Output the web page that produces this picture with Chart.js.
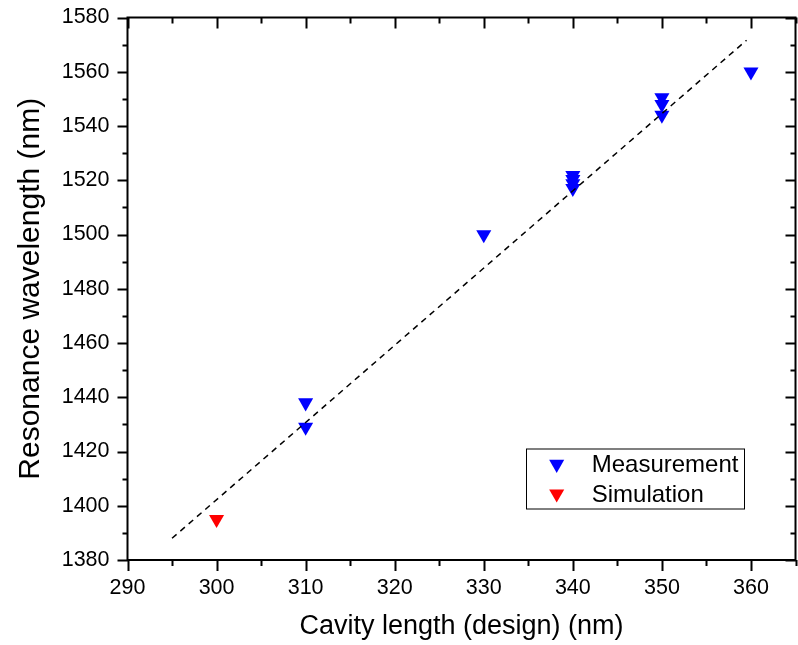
<!DOCTYPE html>
<html>
<head>
<meta charset="utf-8">
<script src="https://cdn.jsdelivr.net/npm/chart.js@4.4.1/dist/chart.umd.min.js"></script>
<style>
  html, body { margin: 0; padding: 0; background: #fff; overflow: hidden; }
  #wrap { width: 798px; height: 645px; }
  canvas { display: block; }
</style>
</head>
<body>
<div id="wrap"><canvas id="chart"></canvas></div>
<script>
// Measured resonances per cavity length (nm)
const measX = [310, 310, 330, 340, 340, 340, 340, 350, 350, 350, 360];
const measY = [1438, 1429, 1500, 1521.8, 1520.3, 1518.8, 1517, 1550.5, 1548, 1544, 1560];

// Simulated resonance
const simX = [300];
const simY = [1395];

// Linear fit endpoints
const fitX = [295, 359.5];
const fitY = [1388, 1571.6];

// Labelled ticks
const xTickLabels = [290, 300, 310, 320, 330, 340, 350, 360];
const yTickLabels = [1380, 1400, 1420, 1440, 1460, 1480, 1500, 1520, 1540, 1560, 1580];

const FONT = "'Liberation Sans', Arial, Helvetica, sans-serif";

const toPoints = (xs, ys) => xs.map((x, i) => ({ x: x, y: ys[i] }));

function triangleDown(ctx, x, y, r, color) {
    ctx.beginPath();
    let rad = Math.PI;
    for (let k = 0; k < 3; k++) {
        const px = x + Math.sin(rad) * r;
        const py = y - Math.cos(rad) * r;
        if (k === 0) ctx.moveTo(px, py); else ctx.lineTo(px, py);
        rad += 2 * Math.PI / 3;
    }
    ctx.closePath();
    ctx.fillStyle = color;
    ctx.fill();
}

// keep the plot box exactly where the layout padding puts it
function fixBox(s, size) {
    if (s.isHorizontal()) s.height = size; else s.width = size;
    s.paddingTop = 0;
    s.paddingBottom = 0;
    s.paddingLeft = 0;
    s.paddingRight = 0;
}

// Box around the plot plus major/minor ticks on all four sides
const axisFrame = {
    id: 'axisFrame',
    afterDraw(chart) {
        const ctx = chart.ctx;
        const { left, right, top, bottom } = chart.chartArea;
        const sx = chart.scales.x, sy = chart.scales.y;
        ctx.save();
        ctx.strokeStyle = '#000';
        ctx.lineWidth = 2;
        ctx.strokeRect(left, top, right - left, bottom - top);
        ctx.beginPath();
        sx.ticks.forEach(t => {
            const px = Math.round(sx.getPixelForValue(t.value)) + 0.5;
            const len = xTickLabels.includes(t.value) ? 11 : 6;
            ctx.moveTo(px, bottom); ctx.lineTo(px, bottom + len);
            ctx.moveTo(px, top); ctx.lineTo(px, top + len);
        });
        sy.ticks.forEach(t => {
            const py = Math.round(sy.getPixelForValue(t.value)) + 0.5;
            const len = yTickLabels.includes(t.value) ? 10 : 5;
            ctx.moveTo(left - len, py); ctx.lineTo(left, py);
            ctx.moveTo(right - len, py); ctx.lineTo(right, py);
        });
        ctx.stroke();

        // legend
        const lx = left + 398.5, ly = top + 431, lw = 218, lh = 60;
        ctx.lineWidth = 1;
        ctx.strokeRect(lx + 0.5, ly + 0.5, lw, lh);
        ctx.font = '24px ' + FONT;
        ctx.textAlign = 'left';
        ctx.textBaseline = 'alphabetic';
        chart.data.datasets.filter(d => d.label).forEach((d, i) => {
            const cy = ly + 15.7 + i * 29.7;
            triangleDown(ctx, lx + 30.7, cy, 8.7, d.backgroundColor);
            ctx.fillStyle = '#000';
            ctx.fillText(d.label, lx + 65.7, cy + 8);
        });
        ctx.restore();
    }
};

new Chart(document.getElementById('chart'), {
    type: 'scatter',
    data: {
        datasets: [
            {
                data: toPoints(fitX, fitY),
                showLine: true,
                borderColor: '#000',
                borderWidth: 1.5,
                borderDash: [6, 5],
                pointRadius: 0,
                order: 0
            },
            {
                label: 'Measurement',
                data: toPoints(measX, measY),
                pointStyle: 'triangle',
                rotation: 180,
                pointRadius: 8.7,
                borderWidth: 0,
                backgroundColor: '#0000ff',
                borderColor: '#0000ff',
                order: 1
            },
            {
                label: 'Simulation',
                data: toPoints(simX, simY),
                pointStyle: 'triangle',
                rotation: 180,
                pointRadius: 8.7,
                borderWidth: 0,
                backgroundColor: '#ff0000',
                borderColor: '#ff0000',
                order: 1
            }
        ]
    },
    options: {
        responsive: true,
        maintainAspectRatio: false,
        animation: false,
        layout: { autoPadding: false, padding: { top: 17.5, right: 2.5, left: 0, bottom: 0 } },
        plugins: {
            legend: { display: false },
            tooltip: { enabled: false }
        },
        scales: {
            x: {
                type: 'linear',
                min: 290,
                max: 365,
                afterFit: (s) => fixBox(s, 85),
                grid: { display: false, drawTicks: false },
                border: { display: false },
                ticks: {
                    stepSize: 5,
                    autoSkip: false,
                    maxRotation: 0,
                    padding: 15,
                    color: '#000',
                    font: { family: FONT, size: 21.5 },
                    callback: (v) => xTickLabels.includes(v) ? String(v) : ''
                },
                title: {
                    display: true,
                    text: 'Cavity length (design) (nm)',
                    color: '#000',
                    font: { family: FONT, size: 27 },
                    padding: { top: 0, bottom: 2 }
                }
            },
            y: {
                type: 'linear',
                min: 1380,
                max: 1580,
                afterFit: (s) => fixBox(s, 127.5),
                grid: { display: false, drawTicks: false },
                border: { display: false },
                ticks: {
                    stepSize: 10,
                    autoSkip: false,
                    padding: 18,
                    color: '#000',
                    font: { family: FONT, size: 21.5 },
                    callback: (v) => yTickLabels.includes(v) ? String(v) : ''
                },
                title: {
                    display: true,
                    text: 'Resonance wavelength (nm)',
                    color: '#000',
                    font: { family: FONT, size: 30 },
                    padding: { top: 13, bottom: 0 }
                }
            }
        }
    },
    plugins: [axisFrame]
});
</script>
</body>
</html>
